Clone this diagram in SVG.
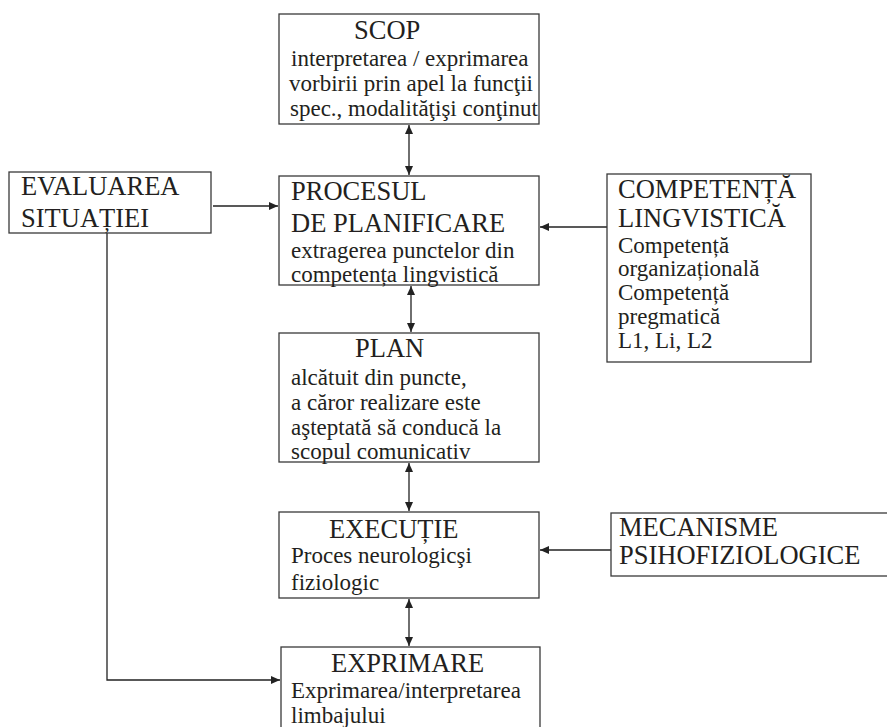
<svg xmlns="http://www.w3.org/2000/svg" width="887" height="727" viewBox="0 0 887 727">
  <style>
    .box { fill: #ffffff; stroke: #3a3a3a; stroke-width: 1.3; }
    .edge { fill: none; stroke: #222222; stroke-width: 1.3; }
    text { font-family: "Liberation Serif", "Times New Roman", serif; fill: #231f20; }
    .title { font-size: 26.5px; }
    .body { font-size: 23px; }
  </style>
  <defs>
    <marker id="arrow" markerUnits="userSpaceOnUse" markerWidth="10" markerHeight="8" refX="9" refY="4" orient="auto-start-reverse">
      <path d="M0,0 L9,4 L0,8 Z" fill="#222222"/>
    </marker>
  </defs>

  <rect width="887" height="727" fill="#ffffff"/>

  <!-- connectors -->
  <g id="connectors">
    <line class="edge" x1="409" y1="125" x2="409" y2="175" marker-start="url(#arrow)" marker-end="url(#arrow)"/>
    <line class="edge" x1="411" y1="286" x2="411" y2="332" marker-start="url(#arrow)" marker-end="url(#arrow)"/>
    <line class="edge" x1="409" y1="463" x2="409" y2="511" marker-start="url(#arrow)" marker-end="url(#arrow)"/>
    <line class="edge" x1="409" y1="599" x2="409" y2="646" marker-start="url(#arrow)" marker-end="url(#arrow)"/>
    <line class="edge" x1="213" y1="206" x2="278" y2="206" marker-end="url(#arrow)"/>
    <line class="edge" x1="607" y1="227" x2="540" y2="227" marker-end="url(#arrow)"/>
    <line class="edge" x1="611" y1="550" x2="540" y2="550" marker-end="url(#arrow)"/>
    <polyline class="edge" points="107,233 107,680 280,680" marker-end="url(#arrow)"/>
  </g>

  <!-- goal -->
  <g id="scop">
    <rect class="box" x="279" y="14" width="260" height="110"/>
    <text class="title" x="354" y="39">SCOP</text>
    <text class="body" x="291" y="66">interpretarea / exprimarea</text>
    <text class="body" x="289" y="91">vorbirii prin apel la funcţii</text>
    <text class="body" x="290" y="116">spec., modalităţişi conţinut</text>
  </g>

  <!-- situation assessment -->
  <g id="evaluarea">
    <rect class="box" x="9" y="172" width="202" height="61"/>
    <text class="title" x="21" y="195">EVALUAREA</text>
    <text class="title" x="21" y="227">SITUAȚIEI</text>
  </g>

  <!-- planning process -->
  <g id="procesul">
    <rect class="box" x="279" y="176" width="260" height="109"/>
    <text class="title" x="291" y="200">PROCESUL</text>
    <text class="title" x="291" y="232">DE PLANIFICARE</text>
    <text class="body" x="291" y="258">extragerea punctelor din</text>
    <text class="body" x="291" y="282">competența lingvistică</text>
  </g>

  <!-- linguistic competence -->
  <g id="competenta">
    <rect class="box" x="607" y="174" width="204" height="188"/>
    <text class="title" x="618" y="198">COMPETENȚĂ</text>
    <text class="title" x="618" y="227">LINGVISTICĂ</text>
    <text class="body" x="618" y="253">Competență</text>
    <text class="body" x="618" y="276">organizațională</text>
    <text class="body" x="618" y="300">Competență</text>
    <text class="body" x="618" y="324">pregmatică</text>
    <text class="body" x="618" y="348">L1, Li, L2</text>
  </g>

  <!-- plan -->
  <g id="plan">
    <rect class="box" x="279" y="333" width="260" height="129"/>
    <text class="title" x="355" y="357">PLAN</text>
    <text class="body" x="291" y="385">alcătuit din puncte,</text>
    <text class="body" x="291" y="410">a căror realizare este</text>
    <text class="body" x="291" y="435">aşteptată să conducă la</text>
    <text class="body" x="291" y="459">scopul comunicativ</text>
  </g>

  <!-- execution -->
  <g id="executie">
    <rect class="box" x="279" y="512" width="260" height="86"/>
    <text class="title" x="329" y="538">EXECUȚIE</text>
    <text class="body" x="291" y="563">Proces neurologicşi</text>
    <text class="body" x="291" y="590">fiziologic</text>
  </g>

  <!-- psychophysiological mechanisms -->
  <g id="mecanisme">
    <rect class="box" x="611" y="513" width="285" height="63"/>
    <text class="title" x="619" y="536">MECANISME</text>
    <text class="title" x="619" y="564">PSIHOFIZIOLOGICE</text>
  </g>

  <!-- expression -->
  <g id="exprimare">
    <rect class="box" x="281" y="647" width="259" height="100"/>
    <text class="title" x="331" y="672">EXPRIMARE</text>
    <text class="body" x="291" y="698">Exprimarea/interpretarea</text>
    <text class="body" x="291" y="723">limbajului</text>
  </g>
</svg>
